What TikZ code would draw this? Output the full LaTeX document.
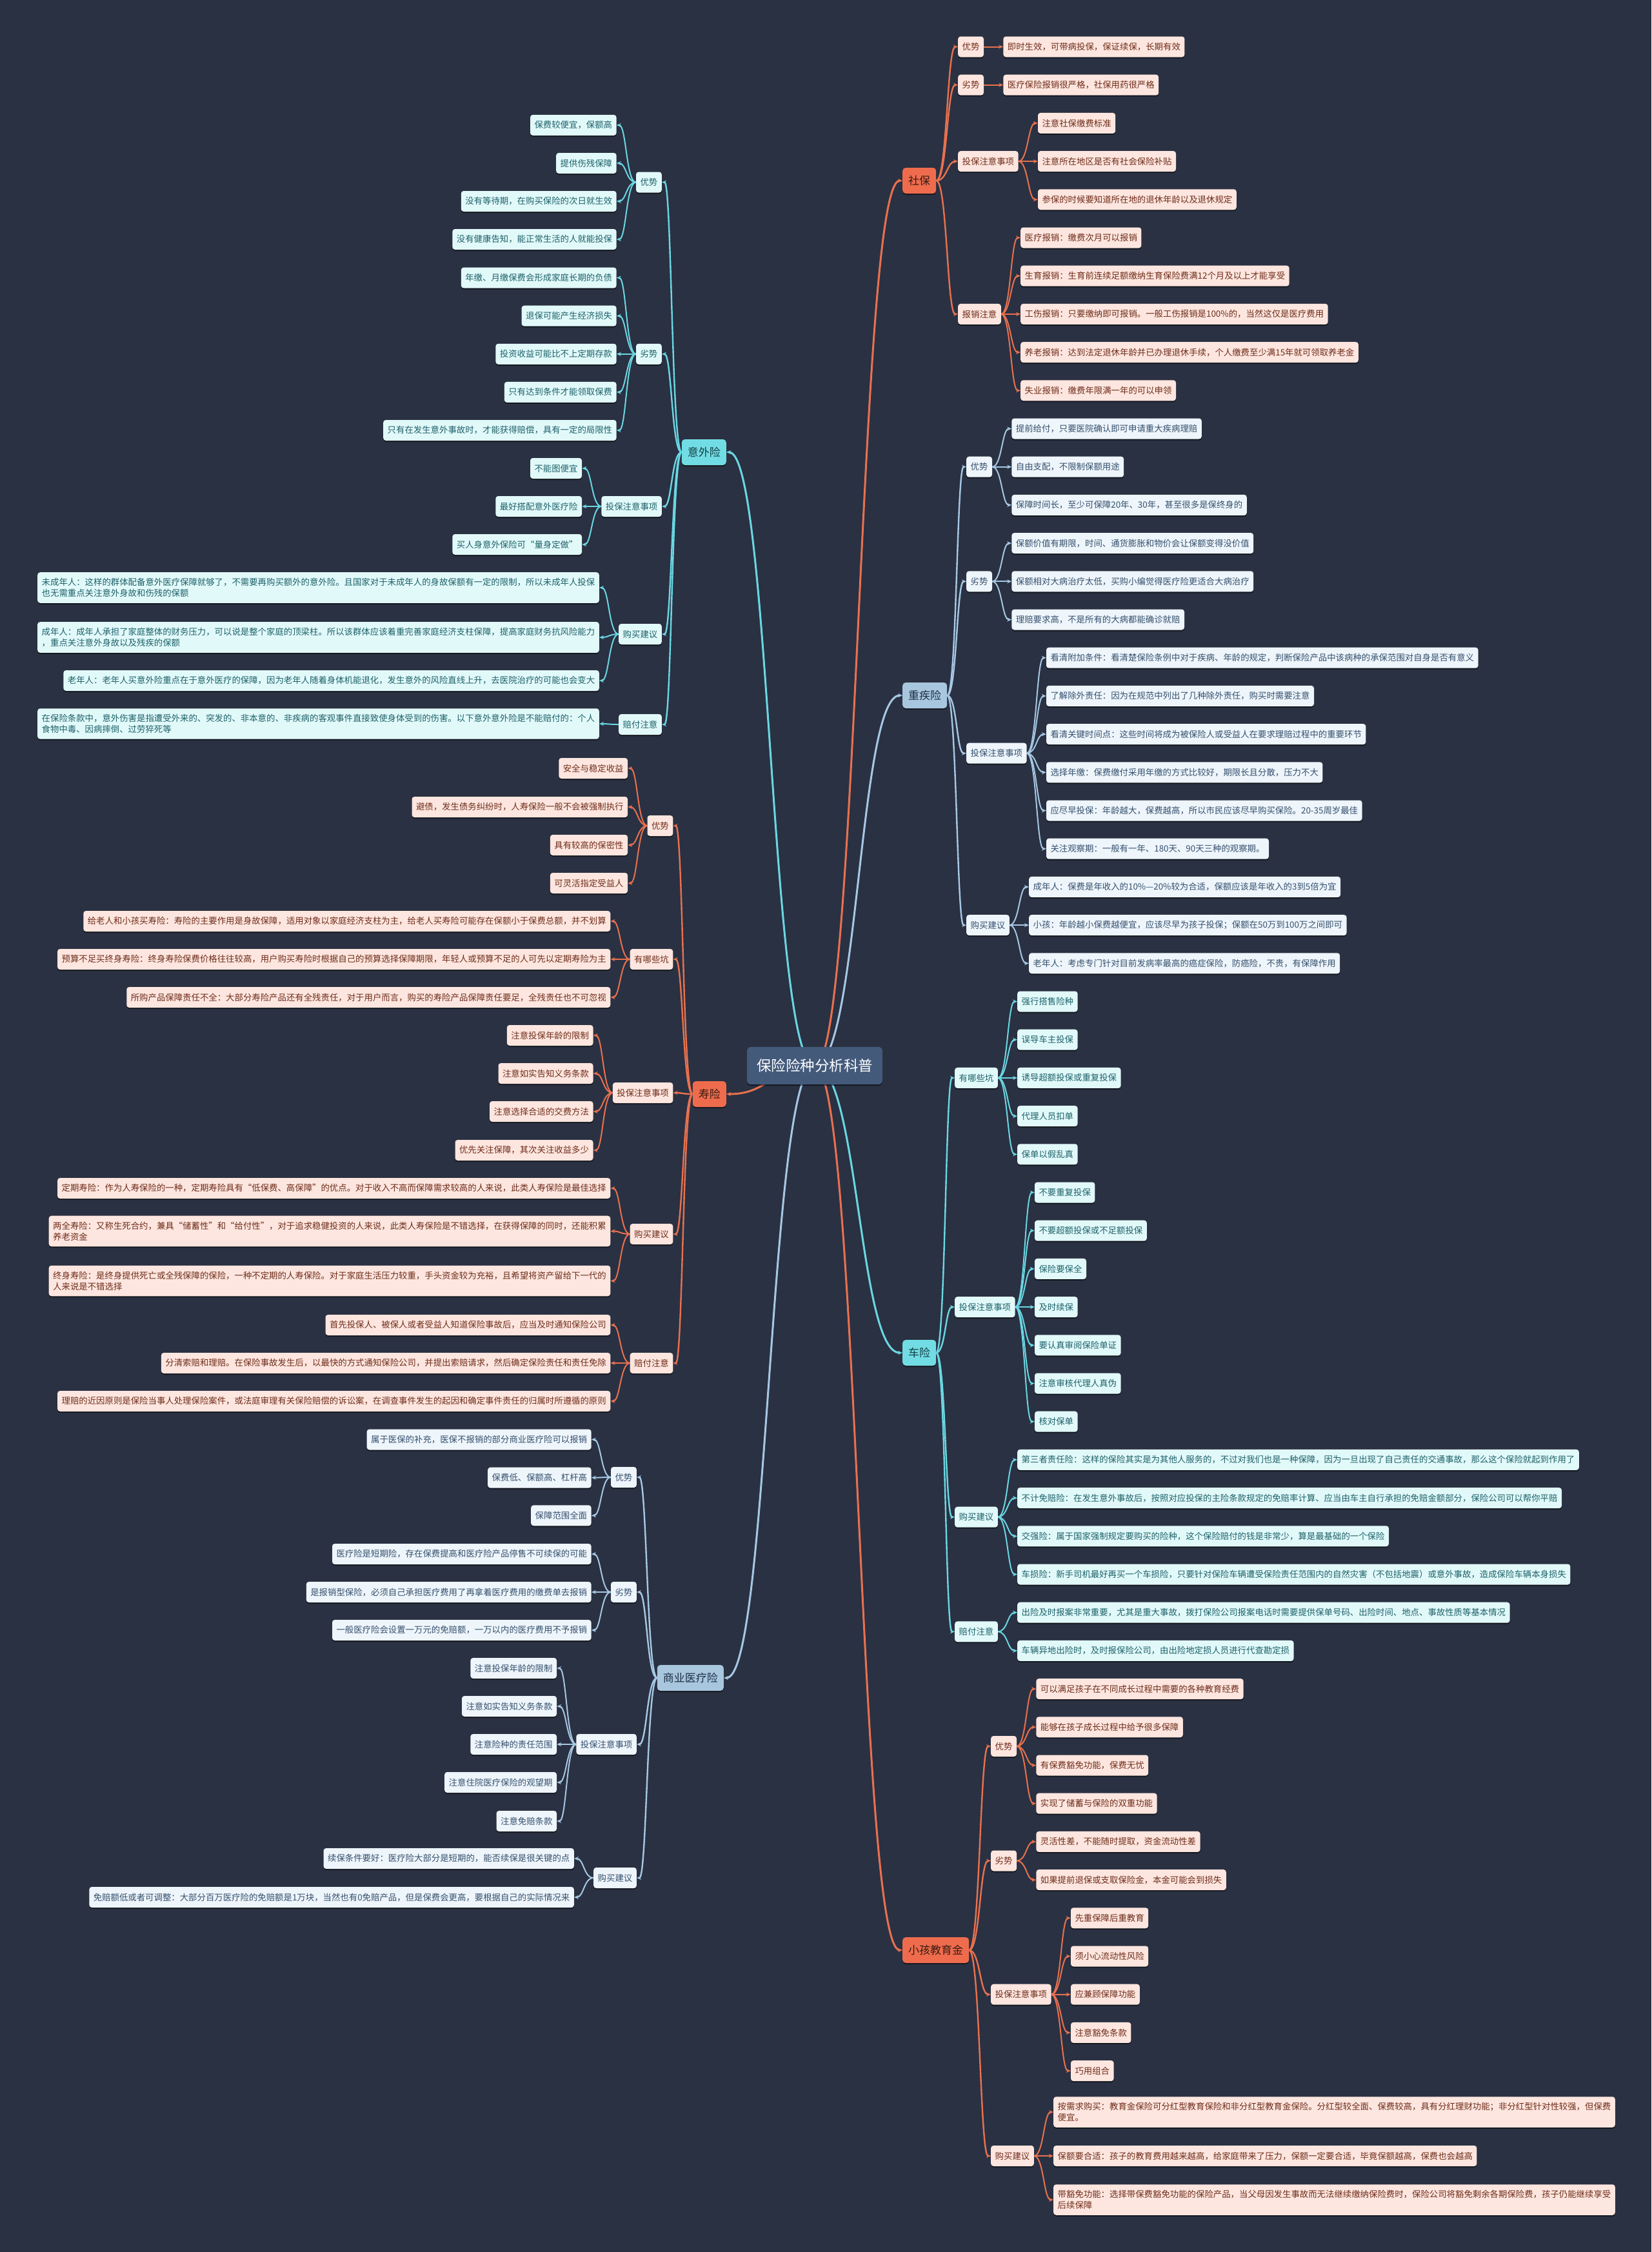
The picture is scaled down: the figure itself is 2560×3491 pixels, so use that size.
\documentclass[tikz,border=0pt]{standalone}
\usepackage{fontspec}
\setmainfont{Noto Sans CJK SC}
\usepackage{tikz}
\usetikzlibrary{arrows.meta, calc, shadows}

\definecolor{bgc}{HTML}{2A3142}
\definecolor{rootc}{HTML}{435A7B}
% orange family
\definecolor{orM}{HTML}{EE6C4D}
\definecolor{orD}{HTML}{3A1A12}
\definecolor{orL}{HTML}{FDE6DF}
\definecolor{orT}{HTML}{6E2C1A}
\definecolor{orK}{HTML}{E9714F}
% blue family
\definecolor{blM}{HTML}{A8C7DF}
\definecolor{blD}{HTML}{1E2F44}
\definecolor{blL}{HTML}{EEF5FB}
\definecolor{blT}{HTML}{35506D}
\definecolor{blK}{HTML}{A6C8E3}
% cyan family
\definecolor{cyM}{HTML}{72DCE4}
\definecolor{cyD}{HTML}{123F44}
\definecolor{cyL}{HTML}{E2F9FA}
\definecolor{cyT}{HTML}{1C6168}
\definecolor{cyK}{HTML}{6AD7E2}

\pgfdeclarelayer{lines}
\pgfsetlayers{lines,main}
\newcommand\leaffont{\fontsize{13.4}{17}\selectfont}

\begin{document}
\begin{tikzpicture}[x=1pt, y=-1pt,
    box/.style={rounded corners=4pt,
        drop shadow={shadow xshift=0pt, shadow yshift=-2pt, fill=black, opacity=0.5}},
    root/.style={box, rounded corners=6pt, fill=rootc, text=white,
        font=\fontsize{22.5}{26}\selectfont, inner xsep=15pt, minimum height=58pt},
    branch/.style={box, rounded corners=5pt, fill=#1M, text=#1D,
        font=\fontsize{17}{20}\selectfont, inner xsep=9pt, minimum height=40pt},
    sub/.style={box, fill=#1L, text=#1T, font=\leaffont,
        inner xsep=6.5pt, inner ysep=9pt, minimum height=32pt, align=left},
    leaf/.style={sub=#1},
    lk/.style={draw=#1, line width=2pt, -{Stealth[length=7pt, width=6pt]},
        to path={let \p1=(\tikztostart), \p2=(\tikztotarget) in
            .. controls ({(\x1+\x2)/2},\y1) and ({(\x1+\x2)/2},\y2) .. (\tikztotarget)}},
    rootlk/.style={lk=#1, line width=3pt}
]
\begin{pgfonlayer}{lines}
\fill[bgc] (0,0) rectangle (2560,3491);
\end{pgfonlayer}
\useasboundingbox (0,0) rectangle (2560,3491);

% centre
\node[root] (root) at (1263,1652) {保险险种分析科普};

% ---------------- 社保 ----------------
\node[branch=or, anchor=west] (sb) at (1399,280) {社保};
\foreach \yy/\txt [count=\i] in {72.5/优势, 131.7/劣势, 250.1/投保注意事项, 486.9/报销注意} {
    \node[sub=or, anchor=west] (sb\i) at (1485,\yy) {\txt};
    \begin{pgfonlayer}{lines}\draw[lk=orK, line width=2.4pt] (sb.east) to (sb\i.west);\end{pgfonlayer}
}
\foreach \k/\yy/\txt [count=\i] in {
    1/72.5/即时生效，可带病投保，保证续保，长期有效,
    2/131.7/医疗保险报销很严格，社保用药很严格,
    3/190.9/注意社保缴费标准,
    3/250.1/注意所在地区是否有社会保险补贴,
    3/309.3/参保的时候要知道所在地的退休年龄以及退休规定,
    4/368.5/医疗报销：缴费次月可以报销,
    4/427.7/生育报销：生育前连续足额缴纳生育保险费满12个月及以上才能享受,
    4/486.9/工伤报销：只要缴纳即可报销。一般工伤报销是100\%的，当然这仅是医疗费用,
    4/546.1/养老报销：达到法定退休年龄并已办理退休手续，个人缴费至少满15年就可领取养老金,
    4/605.3/失业报销：缴费年限满一年的可以申领} {
    \node[leaf=or, anchor=west, xshift=30pt] (sb-\i) at (sb\k.east |- 0,\yy) {\txt};
    \begin{pgfonlayer}{lines}\draw[lk=orK] (sb\k.east) to (sb-\i.west);\end{pgfonlayer}
}

% ---------------- 重疾险 ----------------
\node[branch=bl, anchor=west] (zj) at (1399,1078) {重疾险};
\foreach \yy/\txt [count=\i] in {723.7/优势, 901.3/劣势, 1167.7/投保注意事项, 1434.1/购买建议} {
    \node[sub=bl, anchor=west] (zj\i) at (1498,\yy) {\txt};
    \begin{pgfonlayer}{lines}\draw[lk=blK, line width=2.4pt] (zj.east) to (zj\i.west);\end{pgfonlayer}
}
\foreach \k/\yy/\txt [count=\i] in {
    1/664.5/提前给付，只要医院确认即可申请重大疾病理赔,
    1/723.7/自由支配，不限制保额用途,
    1/782.9/保障时间长，至少可保障20年、30年，甚至很多是保终身的,
    2/842.1/保额价值有期限，时间、通货膨胀和物价会让保额变得没价值,
    2/901.3/保额相对大病治疗太低，买购小编觉得医疗险更适合大病治疗,
    2/960.5/理赔要求高，不是所有的大病都能确诊就赔,
    3/1019.7/看清附加条件：看清楚保险条例中对于疾病、年龄的规定，判断保险产品中该病种的承保范围对自身是否有意义,
    3/1078.9/了解除外责任：因为在规范中列出了几种除外责任，购买时需要注意,
    3/1138.1/看清关键时间点：这些时间将成为被保险人或受益人在要求理赔过程中的重要环节,
    3/1197.3/选择年缴：保费缴付采用年缴的方式比较好，期限长且分散，压力不大,
    3/1256.5/应尽早投保：年龄越大，保费越高，所以市民应该尽早购买保险。20-35周岁最佳,
    3/1315.7/关注观察期：一般有一年、180天、90天三种的观察期。,
    4/1374.9/成年人：保费是年收入的10\%—20\%较为合适，保额应该是年收入的3到5倍为宜,
    4/1434.1/小孩：年龄越小保费越便宜，应该尽早为孩子投保；保额在50万到100万之间即可,
    4/1493.3/老年人：考虑专门针对目前发病率最高的癌症保险，防癌险，不贵，有保障作用} {
    \node[leaf=bl, anchor=west, xshift=30pt] (zj-\i) at (zj\k.east |- 0,\yy) {\txt};
    \begin{pgfonlayer}{lines}\draw[lk=blK] (zj\k.east) to (zj-\i.west);\end{pgfonlayer}
}

% ---------------- 车险 ----------------
\node[branch=cy, anchor=west] (cx) at (1399,2097) {车险};
\foreach \yy/\txt [count=\i] in {1670.9/有哪些坑, 2026.1/投保注意事项, 2351.7/购买建议, 2529.3/赔付注意} {
    \node[sub=cy, anchor=west] (cx\i) at (1480,\yy) {\txt};
    \begin{pgfonlayer}{lines}\draw[lk=cyK, line width=2.4pt] (cx.east) to (cx\i.west);\end{pgfonlayer}
}
\foreach \k/\yy/\txt [count=\i] in {
    1/1552.5/强行搭售险种,
    1/1611.7/误导车主投保,
    1/1670.9/诱导超额投保或重复投保,
    1/1730.1/代理人员扣单,
    1/1789.3/保单以假乱真,
    2/1848.5/不要重复投保,
    2/1907.7/不要超额投保或不足额投保,
    2/1966.9/保险要保全,
    2/2026.1/及时续保,
    2/2085.3/要认真审阅保险单证,
    2/2144.5/注意审核代理人真伪,
    2/2203.7/核对保单,
    3/2262.9/第三者责任险：这样的保险其实是为其他人服务的，不过对我们也是一种保障，因为一旦出现了自己责任的交通事故，那么这个保险就起到作用了,
    3/2322.1/不计免赔险：在发生意外事故后，按照对应投保的主险条款规定的免赔率计算、应当由车主自行承担的免赔金额部分，保险公司可以帮你平赔,
    3/2381.3/交强险：属于国家强制规定要购买的险种，这个保险赔付的钱是非常少，算是最基础的一个保险,
    3/2440.5/车损险：新手司机最好再买一个车损险，只要针对保险车辆遭受保险责任范围内的自然灾害（不包括地震）或意外事故，造成保险车辆本身损失,
    4/2499.7/出险及时报案非常重要，尤其是重大事故，拨打保险公司报案电话时需要提供保单号码、出险时间、地点、事故性质等基本情况,
    4/2558.9/车辆异地出险时，及时报保险公司，由出险地定损人员进行代查勘定损} {
    \node[leaf=cy, anchor=west, xshift=30pt] (cx-\i) at (cx\k.east |- 0,\yy) {\txt};
    \begin{pgfonlayer}{lines}\draw[lk=cyK] (cx\k.east) to (cx-\i.west);\end{pgfonlayer}
}

% ---------------- 小孩教育金 ----------------
\node[branch=or, anchor=west] (xh) at (1399,3023) {小孩教育金};
\foreach \yy/\txt [count=\i] in {2707/优势, 2884.5/劣势, 3091.7/投保注意事项, 3342/购买建议} {
    \node[sub=or, anchor=west] (xh\i) at (1536,\yy) {\txt};
    \begin{pgfonlayer}{lines}\draw[lk=orK, line width=2.4pt] (xh.east) to (xh\i.west);\end{pgfonlayer}
}
\foreach \k/\yy/\txt [count=\i] in {
    1/2618.1/可以满足孩子在不同成长过程中需要的各种教育经费,
    1/2677.3/能够在孩子成长过程中给予很多保障,
    1/2736.5/有保费豁免功能，保费无忧,
    1/2795.7/实现了储蓄与保险的双重功能,
    2/2854.9/灵活性差，不能随时提取，资金流动性差,
    2/2914.1/如果提前退保或支取保险金，本金可能会到损失,
    3/2973.3/先重保障后重教育,
    3/3032.5/须小心流动性风险,
    3/3091.7/应兼顾保障功能,
    3/3150.9/注意豁免条款,
    3/3210.1/巧用组合,
    4/3274/按需求购买：教育金保险可分红型教育保险和非分红型教育金保险。分红型较全面、保费较高，具有分红理财功能；非分红型针对性较强，但保费\\便宜。,
    4/3342/保额要合适：孩子的教育费用越来越高，给家庭带来了压力，保额一定要合适，毕竟保额越高，保费也会越高,
    4/3410/带豁免功能：选择带保费豁免功能的保险产品，当父母因发生事故而无法继续缴纳保险费时，保险公司将豁免剩余各期保险费，孩子仍能继续享受\\后续保障} {
    \node[leaf=or, anchor=west, xshift=30pt] (xh-\i) at (xh\k.east |- 0,\yy) {\txt};
    \begin{pgfonlayer}{lines}\draw[lk=orK] (xh\k.east) to (xh-\i.west);\end{pgfonlayer}
}

% ---------------- 意外险 ----------------
\node[branch=cy, anchor=east] (yw) at (1126,701) {意外险};
\foreach \yy/\txt [count=\i] in {282.5/优势, 548.8/劣势, 785/投保注意事项, 983/购买建议, 1123/赔付注意} {
    \node[sub=cy, anchor=east] (yw\i) at (1026,\yy) {\txt};
    \begin{pgfonlayer}{lines}\draw[lk=cyK, line width=2.4pt] (yw.west) to (yw\i.east);\end{pgfonlayer}
}
\foreach \k/\yy/\txt [count=\i] in {
    1/194/保费较便宜，保额高,
    1/253/提供伤残保障,
    1/312/没有等待期，在购买保险的次日就生效,
    1/371/没有健康告知，能正常生活的人就能投保,
    2/430.6/年缴、月缴保费会形成家庭长期的负债,
    2/489.7/退保可能产生经济损失,
    2/548.8/投资收益可能比不上定期存款,
    2/607.9/只有达到条件才能领取保费,
    2/667/只有在发生意外事故时，才能获得赔偿，具有一定的局限性,
    3/726/不能图便宜,
    3/785/最好搭配意外医疗险,
    3/844/买人身意外保险可“量身定做”,
    4/911/未成年人：这样的群体配备意外医疗保障就够了，不需要再购买额外的意外险。且国家对于未成年人的身故保额有一定的限制，所以未成年人投保\\也无需重点关注意外身故和伤残的保额,
    4/988/成年人：成年人承担了家庭整体的财务压力，可以说是整个家庭的顶梁柱。所以该群体应该着重完善家庭经济支柱保障，提高家庭财务抗风险能力\\，重点关注意外身故以及残疾的保额,
    4/1055/老年人：老年人买意外险重点在于意外医疗的保障，因为老年人随着身体机能退化，发生意外的风险直线上升，去医院治疗的可能也会变大,
    5/1122/在保险条款中，意外伤害是指遭受外来的、突发的、非本意的、非疾病的客观事件直接致使身体受到的伤害。以下意外意外险是不能赔付的：个人\\食物中毒、因病摔倒、过劳猝死等} {
    \node[leaf=cy, anchor=east, xshift=-30pt] (yw-\i) at (yw\k.west |- 0,\yy) {\txt};
    \begin{pgfonlayer}{lines}\draw[lk=cyK] (yw\k.west) to (yw-\i.east);\end{pgfonlayer}
}

% ---------------- 寿险 ----------------
\node[branch=or, anchor=east] (sx) at (1126,1696) {寿险};
\foreach \yy/\txt [count=\i] in {1280/优势, 1487/有哪些坑, 1694/投保注意事项, 1913/购买建议, 2113/赔付注意} {
    \node[sub=or, anchor=east] (sx\i) at (1043.5,\yy) {\txt};
    \begin{pgfonlayer}{lines}\draw[lk=orK, line width=2.4pt] (sx.west) to (sx\i.east);\end{pgfonlayer}
}
\foreach \k/\yy/\txt [count=\i] in {
    1/1191/安全与稳定收益,
    1/1251/避债，发生债务纠纷时，人寿保险一般不会被强制执行,
    1/1310/具有较高的保密性,
    1/1369/可灵活指定受益人,
    2/1428/给老人和小孩买寿险：寿险的主要作用是身故保障，适用对象以家庭经济支柱为主，给老人买寿险可能存在保额小于保费总额，并不划算,
    2/1487/预算不足买终身寿险：终身寿险保费价格往往较高，用户购买寿险时根据自己的预算选择保障期限，年轻人或预算不足的人可先以定期寿险为主,
    2/1546/所购产品保障责任不全：大部分寿险产品还有全残责任，对于用户而言，购买的寿险产品保障责任要足，全残责任也不可忽视,
    3/1605/注意投保年龄的限制,
    3/1664/注意如实告知义务条款,
    3/1723/注意选择合适的交费方法,
    3/1783/优先关注保障，其次关注收益多少,
    4/1842/定期寿险：作为人寿保险的一种，定期寿险具有“低保费、高保障”的优点。对于收入不高而保障需求较高的人来说，此类人寿保险是最佳选择,
    4/1908.5/两全寿险：又称生死合约，兼具“储蓄性”和“给付性”，对于追求稳健投资的人来说，此类人寿保险是不错选择，在获得保障的同时，还能积累\\养老资金,
    4/1985.5/终身寿险：是终身提供死亡或全残保障的保险，一种不定期的人寿保险。对于家庭生活压力较重，手头资金较为充裕，且希望将资产留给下一代的\\人来说是不错选择,
    5/2054/首先投保人、被保人或者受益人知道保险事故后，应当及时通知保险公司,
    5/2113/分清索赔和理赔。在保险事故发生后，以最快的方式通知保险公司，并提出索赔请求，然后确定保险责任和责任免除,
    5/2172/理赔的近因原则是保险当事人处理保险案件，或法庭审理有关保险赔偿的诉讼案，在调查事件发生的起因和确定事件责任的归属时所遵循的原则} {
    \node[leaf=or, anchor=east, xshift=-30pt] (sx-\i) at (sx\k.west |- 0,\yy) {\txt};
    \begin{pgfonlayer}{lines}\draw[lk=orK] (sx\k.west) to (sx-\i.east);\end{pgfonlayer}
}

% ---------------- 商业医疗险 ----------------
\node[branch=bl, anchor=east] (sy) at (1122,2601) {商业医疗险};
\foreach \yy/\txt [count=\i] in {2290/优势, 2468/劣势, 2704/投保注意事项, 2911/购买建议} {
    \node[sub=bl, anchor=east] (sy\i) at (987,\yy) {\txt};
    \begin{pgfonlayer}{lines}\draw[lk=blK, line width=2.4pt] (sy.west) to (sy\i.east);\end{pgfonlayer}
}
\foreach \k/\yy/\txt [count=\i] in {
    1/2231.5/属于医保的补充，医保不报销的部分商业医疗险可以报销,
    1/2290.6/保费低、保额高、杠杆高,
    1/2349.3/保障范围全面,
    2/2409/医疗险是短期险，存在保费提高和医疗险产品停售不可续保的可能,
    2/2468/是报销型保险，必须自己承担医疗费用了再拿着医疗费用的缴费单去报销,
    2/2527/一般医疗险会设置一万元的免赔额，一万以内的医疗费用不予报销,
    3/2586/注意投保年龄的限制,
    3/2645/注意如实告知义务条款,
    3/2704/注意险种的责任范围,
    3/2763/注意住院医疗保险的观望期,
    3/2823/注意免赔条款,
    4/2881/续保条件要好：医疗险大部分是短期的，能否续保是很关键的点,
    4/2941/免赔额低或者可调整：大部分百万医疗险的免赔额是1万块，当然也有0免赔产品，但是保费会更高，要根据自己的实际情况来} {
    \node[leaf=bl, anchor=east, xshift=-30pt] (sy-\i) at (sy\k.west |- 0,\yy) {\txt};
    \begin{pgfonlayer}{lines}\draw[lk=blK] (sy\k.west) to (sy-\i.east);\end{pgfonlayer}
}

% centre to branches
\begin{pgfonlayer}{lines}
\foreach \br/\col in {sb/orK, zj/blK, cx/cyK, xh/orK}
    \draw[rootlk=\col] (root.center) to (\br.west);
\foreach \br/\col in {yw/cyK, sx/orK, sy/blK}
    \draw[rootlk=\col] (root.center) to (\br.east);
\end{pgfonlayer}
\end{tikzpicture}
\end{document}
